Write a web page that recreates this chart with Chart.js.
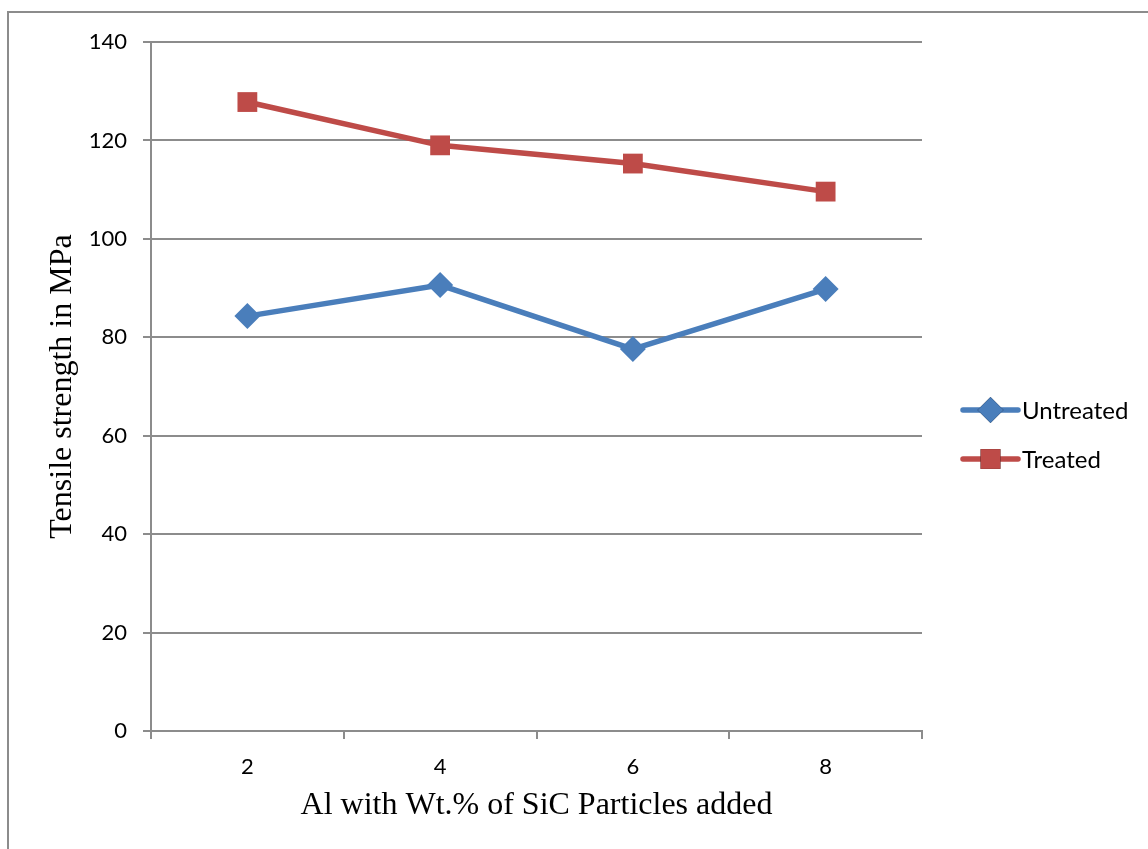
<!DOCTYPE html>
<html>
<head>
<meta charset="utf-8">
<script src="https://cdn.jsdelivr.net/npm/chart.js@4"></script>
<style>
  html, body { margin: 0; padding: 0; background: #fff; overflow: hidden; }
  #wrap { position: relative; width: 1148px; height: 849px; }
  #frame { position: absolute; left: 7px; top: 11px; width: 1200px; height: 900px; border-left: 2px solid #8c8c8c; border-top: 2px solid #8c8c8c; }
  canvas { position: absolute; left: 0; top: 0; }
</style>
</head>
<body>
<div id="wrap">
  <div id="frame"></div>
  <canvas id="myChart" width="1148" height="849"></canvas>
</div>
<script>
const categories = ['2', '4', '6', '8'];
const untreated = [84.3, 90.6, 77.6, 89.8];
const treated = [127.8, 119.0, 115.3, 109.6];
const yTicks = [0, 20, 40, 60, 80, 100, 120, 140];

const tickFont = { family: 'Lato, "Open Sans", sans-serif', size: 22 };
const titleFont = { family: '"Liberation Serif", "Times New Roman", serif', size: 32 };
const gridColor = '#8c8c8c';

// legend with line + marker like the original
const sideLegend = {
    id: 'sideLegend',
    afterDraw(chart) {
        const ctx = chart.ctx;
        const x0 = 963, x1 = 1018;
        const rows = [{ y: 410 }, { y: 459 }];
        chart.data.datasets.forEach((ds, i) => {
            const y = rows[i].y;
            ctx.save();
            ctx.strokeStyle = ds.borderColor;
            ctx.lineWidth = 5.5;
            ctx.lineCap = 'round';
            ctx.beginPath();
            ctx.moveTo(x0, y);
            ctx.lineTo(x1, y);
            ctx.stroke();
            Chart.helpers.drawPoint(ctx, {
                pointStyle: ds.pointStyle,
                radius: ds.pointRadius,
                borderWidth: 0
            }, (x0 + x1) / 2, y);
            ctx.fillStyle = ds.borderColor;
            ctx.fill();
            ctx.fillStyle = '#000';
            ctx.font = '24px ' + tickFont.family;
            ctx.textBaseline = 'middle';
            ctx.fillText(ds.label, x1 + 4, y + 1);
            ctx.restore();
        });
    }
};

new Chart(document.getElementById('myChart'), {
    type: 'line',
    data: {
        labels: categories,
        datasets: [{
            label: 'Untreated',
            data: untreated,
            borderColor: '#4a7ebb',
            backgroundColor: '#4a7ebb',
            borderWidth: 5.5,
            pointStyle: 'rectRot',
            pointRadius: 13,
            pointBorderWidth: 0,
            tension: 0
        },
        {
            label: 'Treated',
            data: treated,
            borderColor: '#be4b48',
            backgroundColor: '#be4b48',
            borderWidth: 5.5,
            pointStyle: 'rect',
            pointRadius: 14,
            pointBorderWidth: 0,
            tension: 0
        }]
    },
    options: {
        responsive: false,
        animation: false,
        layout: { padding: { left: 10, top: 42, right: 226, bottom: 10 } },
        plugins: {
            legend: { display: false },
            tooltip: { enabled: false }
        },
        scales: {
            x: {
                offset: true,
                afterFit: (scale) => { scale.height = 849 - 731 - 10; },
                grid: {
                    offset: true,
                    drawOnChartArea: false,
                    color: gridColor,
                    lineWidth: 2,
                    tickLength: 8
                },
                border: { color: gridColor, width: 2 },
                ticks: { font: tickFont, color: '#000', padding: 15 },
                title: {
                    display: true,
                    text: 'Al with Wt.% of SiC Particles added',
                    font: titleFont,
                    color: '#000',
                    padding: { top: 0, bottom: 14 }
                }
            },
            y: {
                min: 0,
                max: 140,
                afterFit: (scale) => { scale.width = 141; },
                afterBuildTicks: (scale) => { scale.ticks = yTicks.map(v => ({ value: v })); },
                grid: {
                    color: gridColor,
                    lineWidth: 2,
                    tickLength: 8
                },
                border: { color: gridColor, width: 2 },
                ticks: { font: tickFont, color: '#000', padding: 16 },
                title: {
                    display: true,
                    text: 'Tensile strength in MPa',
                    font: titleFont,
                    color: '#000',
                    padding: { top: 33, bottom: 0 }
                }
            }
        }
    },
    plugins: [sideLegend]
});
</script>
</body>
</html>
